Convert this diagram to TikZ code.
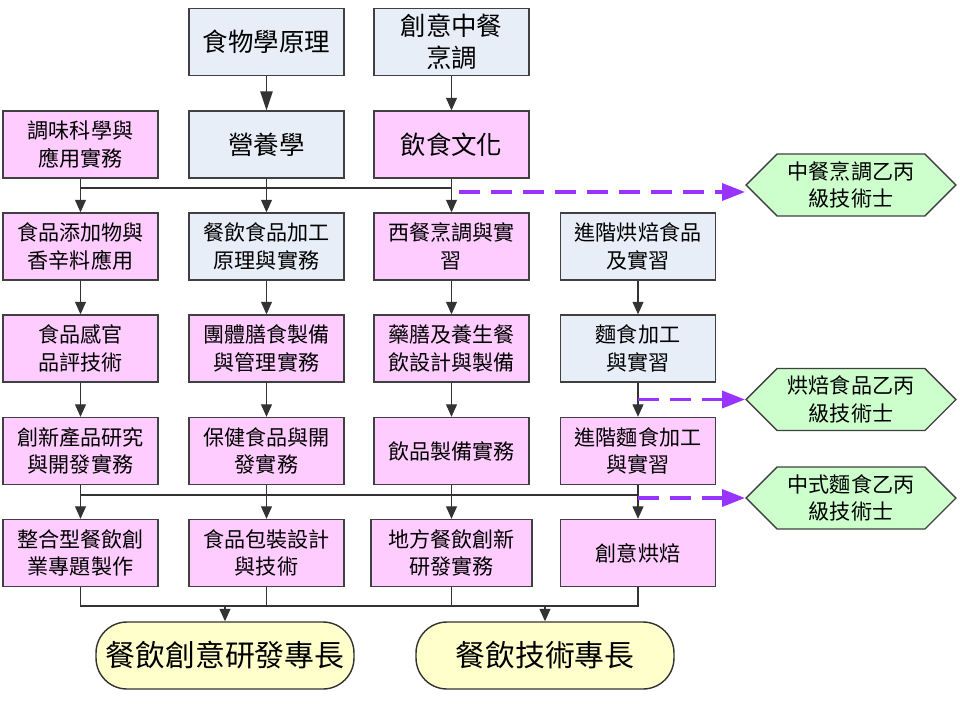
\documentclass[tikz,border=0pt]{standalone}
\usepackage{fontspec}
\setmainfont{Noto Sans CJK TC}
\usetikzlibrary{arrows.meta,shapes.symbols}
\definecolor{boxblue}{RGB}{232,238,247}
\definecolor{boxpink}{RGB}{255,204,255}
\definecolor{certgreen}{RGB}{204,255,204}
\definecolor{goalyellow}{RGB}{255,255,204}
\definecolor{certpurple}{RGB}{153,51,255}
\begin{document}
\begin{tikzpicture}[x=0.02cm, y=-0.02cm,
  every node/.style={font=\fontsize{12}{15.5}\selectfont},
  box/.style={draw=black!75, line width=0.8pt, minimum width=3.1cm, minimum height=1.34cm, align=center, inner sep=0pt},
  blu/.style={box, fill=boxblue},
  pnk/.style={box, fill=boxpink},
  big/.style={font=\fontsize{14.5}{18}\selectfont},
  cert/.style={signal, signal to=west and east, signal pointer angle=90, draw=black!75, line width=0.8pt,
    fill=certgreen, minimum width=4.2cm, minimum height=1.24cm, align=center, inner sep=0pt},
  goal/.style={draw=black!80, line width=0.8pt, fill=goalyellow, rounded corners=0.62cm,
    minimum width=5.16cm, minimum height=1.34cm, inner sep=0pt, font=\fontsize{17}{20}\selectfont},
  link/.style={draw=black!80, line width=0.6pt},
  arr/.style={link, -{Triangle[width=0.22cm,length=0.25cm]}},
  bigarr/.style={link, -{Triangle[width=0.25cm,length=0.38cm]}},
  cdash/.style={draw=certpurple, line width=2pt, dash pattern=on 0.42cm off 0.22cm,
    -{Triangle[width=0.34cm,length=0.46cm]}}]
\useasboundingbox (0,0) rectangle (960,720);

% top rows
\node[blu,big] (shiwu) at (266.5,42) {食物學原理};
\node[blu,big] (chuangyi) at (451.5,42) {創意中餐\\烹調};
\node[pnk] (tiaowei) at (80.5,144.5) {調味科學與\\應用實務};
\node[blu,big] (yingyang) at (266.5,144.5) {營養學};
\node[pnk,big] (yinshi) at (451.5,144.5) {飲食文化};

% courses
\node[pnk] (tianjia) at (80.5,246.5) {食品添加物與\\香辛料應用};
\node[blu] (jiagong) at (266.5,246.5) {餐飲食品加工\\原理與實務};
\node[pnk] (xican) at (451.5,246.5) {西餐烹調與實\\習};
\node[blu] (hongbei) at (638,246.5) {進階烘焙食品\\及實習};
\node[pnk] (ganguan) at (80.5,348.5) {食品感官\\品評技術};
\node[pnk] (shanshi) at (266.5,348.5) {團體膳食製備\\與管理實務};
\node[pnk] (yaoshan) at (451.5,348.5) {藥膳及養生餐\\飲設計與製備};
\node[blu] (mianshi) at (638,348.5) {麵食加工\\與實習};
\node[pnk] (chuangxin) at (80.5,451) {創新產品研究\\與開發實務};
\node[pnk] (baojian) at (266.5,451) {保健食品與開\\發實務};
\node[pnk] (yinpin) at (451.5,451) {飲品製備實務};
\node[pnk] (jinjie) at (638,451) {進階麵食加工\\與實習};
\node[pnk] (zhenghe) at (80.5,553) {整合型餐飲創\\業專題製作};
\node[pnk] (baozhuang) at (266.5,553) {食品包裝設計\\與技術};
\node[pnk,minimum width=3.22cm] (difang) at (451.5,553) {地方餐飲創新\\研發實務};
\node[pnk] (chuangbei) at (638,553) {創意烘焙};

% certificates
\node[cert] (zhongcan) at (851,185) {中餐烹調乙丙\\級技術士};
\node[cert] (beipin) at (851,399.5) {烘焙食品乙丙\\級技術士};
\node[cert] (mianzheng) at (851,498) {中式麵食乙丙\\級技術士};

% goals
\node[goal] (yanfa) at (225,655.5) {餐飲創意研發專長};
\node[goal] (jishu) at (545,655.5) {餐飲技術專長};

\coordinate (bus1) at (0,188);
\coordinate (bus2) at (0,495);
\coordinate (bus3) at (0,606);
\coordinate (d1) at (459,192);

\draw[bigarr] (shiwu) -- (yingyang);
\draw[arr] (chuangyi) -- (yinshi);
\draw[link] (tiaowei.south) |- (yinshi.south |- bus1) -- (yinshi.south);
\draw[link] (yingyang.south) -- (yingyang.south |- bus1);
\draw[arr] (tiaowei.south |- bus1) -- (tianjia);
\draw[arr] (yingyang.south |- bus1) -- (jiagong);
\draw[arr] (yinshi.south |- bus1) -- (xican);
\draw[cdash] (d1) -- (zhongcan.west |- d1);

\draw[arr] (tianjia) -- (ganguan);
\draw[arr] (jiagong) -- (shanshi);
\draw[arr] (xican) -- (yaoshan);
\draw[arr] (hongbei) -- (mianshi);
\draw[arr] (ganguan) -- (chuangxin);
\draw[arr] (shanshi) -- (baojian);
\draw[arr] (yaoshan) -- (yinpin);
\draw[arr] (mianshi) -- (jinjie);
\draw[cdash] (mianshi.south |- beipin.west) -- (beipin.west);

\draw[link] (chuangxin.south) |- (jinjie.south |- bus2) -- (jinjie.south);
\draw[link] (baojian.south) -- (baojian.south |- bus2);
\draw[link] (yinpin.south) -- (yinpin.south |- bus2);
\draw[arr] (chuangxin.south |- bus2) -- (zhenghe);
\draw[arr] (baojian.south |- bus2) -- (baozhuang);
\draw[arr] (yinpin.south |- bus2) -- (difang);
\draw[arr] (jinjie.south |- bus2) -- (chuangbei);
\draw[cdash] (jinjie.south |- mianzheng.west) -- (mianzheng.west);

\draw[link] (zhenghe.south) |- (chuangbei.south |- bus3) -- (chuangbei.south);
\draw[link] (baozhuang.south) -- (baozhuang.south |- bus3);
\draw[link] (difang.south) -- (difang.south |- bus3);
\draw[arr] (yanfa.north |- bus3) -- (yanfa);
\draw[arr] (jishu.north |- bus3) -- (jishu);
\end{tikzpicture}
\end{document}
